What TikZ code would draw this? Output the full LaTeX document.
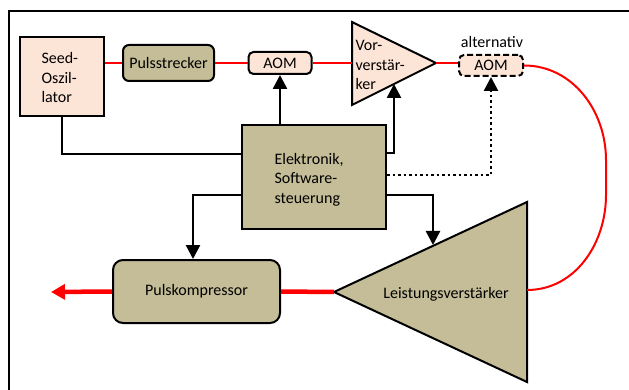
\documentclass[tikz,border=0pt]{standalone}
\usepackage{fontspec}
\setmainfont{Carlito}
\usetikzlibrary{arrows.meta,calc}
\definecolor{peach}{HTML}{FCE4D6}
\definecolor{khaki}{HTML}{C4BD97}
\begin{document}
\begin{tikzpicture}[x=1pt,y=-1pt,
  font=\fontsize{16}{19.5}\selectfont,
  box/.style={draw, line width=2pt, inner sep=0pt},
  peachbox/.style={box, fill=peach},
  tanbox/.style={box, fill=khaki},
  wire/.style={line width=2.5pt},
  ctrl/.style={wire, -{Triangle[width=14pt,length=14pt]}},
  dotline/.style={dash pattern=on 2.5pt off 3pt},
  beam/.style={red, line width=2pt},
  powerbeam/.style={red, line width=4.5pt}]

\useasboundingbox (0,0) rectangle (629,390);

% outer frame
\draw[line width=2.5pt] (640,11) -- (9,11) -- (9,400);

% upper chain
\node[peachbox, minimum width=84, minimum height=79] (seed) at (62,76.5) {};
\node[align=left, anchor=west] (seedtext) at (38,78) {Seed-\\Oszil-\\lator};

\node[tanbox, rounded corners=6, minimum width=91, minimum height=36] (strecker) at (168.5,63) {Pulsstrecker};
\node[peachbox, rounded corners=5, minimum width=63, minimum height=22] (aom) at (280,63) {AOM};

% preamplifier
\coordinate (vtop) at (352,22);
\coordinate (vbot) at (352,105);
\coordinate (vtip) at (436,63);
\coordinate (vin) at (352,63);
\coordinate (vctl) at ($(vtip)!0.5!(vbot)$);
\draw[line width=2pt, fill=peach] (vtop) -- (vtip) -- (vbot) -- cycle;
\node[align=left, anchor=west] (vortext) at (352,65) {Vor-\\verstär-\\ker};

% optional modulator
\node[peachbox, dash pattern=on 6pt off 3pt, rounded corners=5, minimum width=64, minimum height=21] (aomalt) at (491,65.5) {AOM};
\node (alttext) at (492,42) {alternativ};

% control electronics
\node[tanbox, minimum width=144, minimum height=104] (elek) at (314,177) {};
\node[align=left, anchor=west] (elektext) at (271,179.5) {Elektronik,\\Software-\\steuerung};

% compressor
\node[tanbox, rounded corners=10, minimum width=167, minimum height=63] (komp) at (196.5,291.5) {Pulskompressor};

% power amplifier
\coordinate (ltip) at (334,292);
\coordinate (ltop) at (527,202);
\coordinate (lbot) at (527,382);
\coordinate (lout) at (527,290);
\coordinate (lctl) at (433,245);
\draw[line width=2pt, fill=khaki] (ltop) -- (ltip) -- (lbot) -- cycle;
\node (ltext) at (446,294) {Leistungsverstärker};

% beam path
\coordinate (loopa) at (606,160);
\coordinate (loopb) at (606,195);
\coordinate (out) at (51,292);
\draw[beam] (seed.east |- strecker.west) -- (strecker.west);
\draw[beam] (strecker.east) -- (aom.west);
\draw[beam] (aom.east) -- (vin);
\draw[beam] (vtip) -- (aomalt.west |- vtip);
\draw[beam] (aomalt.east) to[out=0,in=90] (loopa) -- (loopb) to[out=-90,in=0] (lout);
\draw[powerbeam] (ltip) -- (komp.east);
\draw[powerbeam, -{Triangle[width=15pt,length=14pt]}] (komp.west) -- (out);

% control lines
\draw[wire] ([yshift=23pt]elek.west) -| (seed.south);
\draw[ctrl] (elek.north -| aom.south) -- (aom.south);
\draw[ctrl] ([yshift=24pt]elek.east) -| (vctl);
\draw[ctrl, dotline] ([yshift=2pt]elek.east) -| (aomalt.south);
\draw[ctrl] ([yshift=-18pt]elek.east) -| (lctl);
\draw[ctrl] ([yshift=-18pt]elek.west) -| ([xshift=-3.5pt]komp.north);
\end{tikzpicture}
\end{document}
